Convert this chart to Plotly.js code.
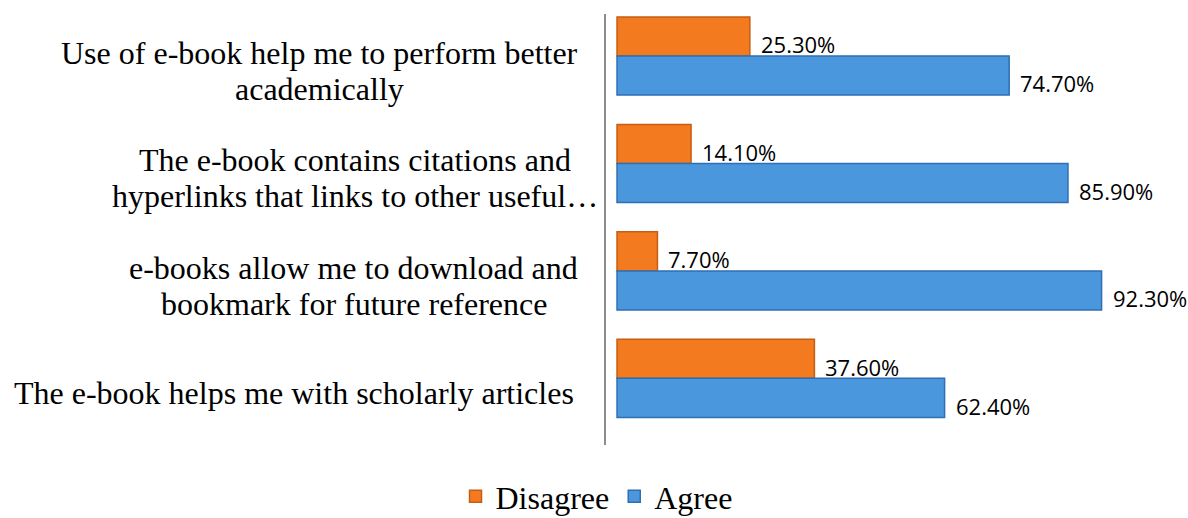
<!DOCTYPE html>
<html>
<head>
<meta charset="utf-8">
<script src="https://cdn.plot.ly/plotly-3.0.1.min.js"></script>
<style>
  html, body { margin: 0; padding: 0; background: #ffffff; }
  #chart { width: 1188px; height: 518px; }
</style>
</head>
<body>
<div id="chart"></div>
<script>
// Survey statements, top to bottom (each entry holds the lines of one statement)
const categories = [
  ["Use of e-book help me to perform better", "academically"],
  ["The e-book contains citations and", "hyperlinks that links to other useful…"],
  ["e-books allow me to download and", "bookmark for future reference"],
  ["The e-book helps me with scholarly articles"]
];
// Shares of respondents, in percent
const disagree = [25.3, 14.1, 7.7, 37.6];
const agree = [74.7, 85.9, 92.3, 62.4];

const seriesNames = ["Disagree", "Agree"];
const seriesColors = ["#F37A1F", "#4A97DD"];
const seriesEdges = ["#C55E12", "#2F6FB3"];

const W = 1188, H = 518;
const M = { l: 606, r: 46, t: 14, b: 73 };
const plotW = W - M.l - M.r;
const plotH = H - M.t - M.b;

const serif = "Liberation Serif, Times New Roman, serif";
const labelSize = 32;
const lineStep = 36;                       // spacing between lines of one statement
const blockRight = [578, 598, 578, 574];   // right edge of each statement block, px

const keys = categories.map((c, i) => "c" + i);

const traces = [disagree, agree].map((vals, k) => ({
  type: "bar",
  orientation: "h",
  name: seriesNames[k],
  x: vals,
  y: keys,
  marker: { color: seriesColors[k], line: { color: seriesEdges[k], width: 1.5 } },
  hoverinfo: "skip"
}));

// measure statement lines so each block is centred line by line
const ctx = document.createElement("canvas").getContext("2d");
ctx.font = labelSize + "px 'Liberation Serif'";

const annotations = [];
categories.forEach((lines, i) => {
  const maxW = Math.max(...lines.map(s => ctx.measureText(s).width));
  const centerPx = blockRight[i] - maxW / 2;
  const xPaper = (centerPx - M.l) / plotW;
  const n = lines.length;
  lines.forEach((s, j) => {
    const offset = (j - (n - 1) / 2) * lineStep;
    annotations.push({
      xref: "paper", yref: "y", x: xPaper, y: keys[i],
      xanchor: "center", yanchor: "middle",
      yshift: -15 - offset,
      text: s, showarrow: false,
      font: { family: serif, size: labelSize, color: "#000" }
    });
  });
});

// value labels next to the bar ends
[disagree, agree].forEach((vals, k) => {
  vals.forEach((v, i) => {
    annotations.push({
      xref: "x", yref: "y", x: v, y: keys[i],
      xanchor: "left", yanchor: "middle",
      xshift: 9, yshift: k === 0 ? 11.5 : -27.5,
      text: v.toFixed(2) + "%", showarrow: false,
      font: { family: "Open Sans, Liberation Sans, sans-serif", size: 22, color: "#000" }
    });
  });
});

const layout = {
  width: W,
  height: H,
  margin: { l: M.l, r: M.r, t: M.t, b: M.b, autoexpand: false },
  paper_bgcolor: "#ffffff",
  plot_bgcolor: "#ffffff",
  barmode: "group",
  bargap: 0.274,
  bargroupgap: 0,
  showlegend: true,
  legend: {
    orientation: "h",
    x: -0.0177, xanchor: "center",
    y: -(M.b + 6) / plotH, yanchor: "bottom",
    font: { family: serif, size: 32, color: "#000" },
    traceorder: "normal",
    itemwidth: 30,
    borderwidth: 0
  },
  xaxis: {
    range: [-2.1, 100],
    showgrid: false, zeroline: false, showticklabels: false, ticks: "",
    showline: false, fixedrange: true
  },
  yaxis: {
    type: "category",
    range: [3.62, -0.39],
    showgrid: false, zeroline: false, showticklabels: false, ticks: "",
    showline: true, linecolor: "#8c8c8c", linewidth: 2, fixedrange: true
  },
  annotations: annotations
};

Plotly.newPlot("chart", traces, layout, { displayModeBar: false, staticPlot: true });
</script>
</body>
</html>
